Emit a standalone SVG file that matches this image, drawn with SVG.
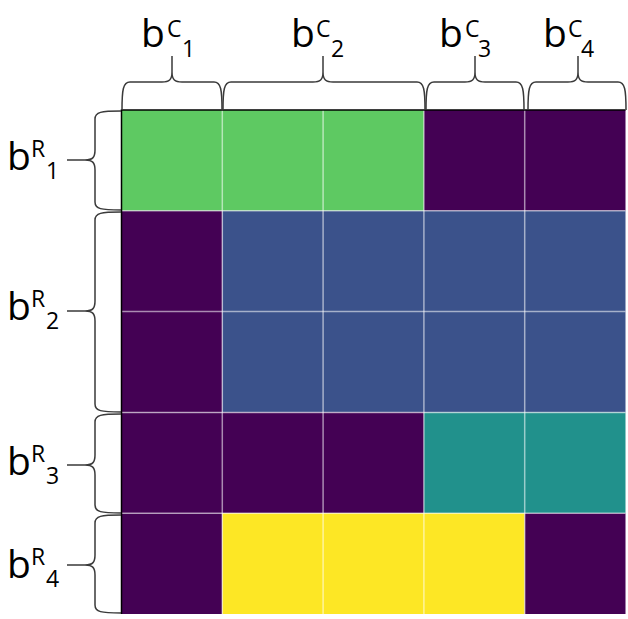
<svg xmlns="http://www.w3.org/2000/svg" width="628" height="619" viewBox="0 0 628 619">
<style>
.lbl{font-family:"Open Sans","Liberation Sans",sans-serif;fill:#000}
.big{font-size:39px}
.sm{font-size:23px}
.brace{fill:none;stroke:#3a3a3a;stroke-width:1.5}
.grid{stroke:#ffffff;stroke-opacity:0.55;stroke-width:1.5}
.G{fill:#5ec962}.P{fill:#440154}.B{fill:#3b528b}.T{fill:#21918c}.Y{fill:#fde725}
</style>
<rect width="628" height="619" fill="#ffffff"/>
<g id="matrix">
<rect class="G" x="121.5" y="110" width="302.4" height="100.8"/>
<rect class="P" x="423.9" y="110" width="201.6" height="100.8"/>
<rect class="P" x="121.5" y="210.8" width="100.8" height="201.6"/>
<rect class="B" x="222.3" y="210.8" width="403.2" height="201.6"/>
<rect class="P" x="121.5" y="412.4" width="302.4" height="100.8"/>
<rect class="T" x="423.9" y="412.4" width="201.6" height="100.8"/>
<rect class="P" x="121.5" y="513.2" width="100.8" height="100.8"/>
<rect class="Y" x="222.3" y="513.2" width="302.4" height="100.8"/>
<rect class="P" x="524.7" y="513.2" width="100.8" height="100.8"/>
<g class="grid">
<line x1="222.3" y1="110" x2="222.3" y2="614"/>
<line x1="323.1" y1="110" x2="323.1" y2="614"/>
<line x1="423.9" y1="110" x2="423.9" y2="614"/>
<line x1="524.7" y1="110" x2="524.7" y2="614"/>
<line x1="121.5" y1="210.8" x2="625.5" y2="210.8"/>
<line x1="121.5" y1="311.6" x2="625.5" y2="311.6"/>
<line x1="121.5" y1="412.4" x2="625.5" y2="412.4"/>
<line x1="121.5" y1="513.2" x2="625.5" y2="513.2"/>
</g>
<path d="M121.5 614 L121.5 110 L625.5 110" fill="none" stroke="#000" stroke-width="1.5"/>
</g>
<g id="connectors">
<path class="brace" d="M122 110 C122 90 123 82 130 82 L162 82 C169 82 172 80 172 72 L172 56 M172 72 C172 80 175 82 182 82 L214 82 C221 82 222 90 222 110"/>
<path class="brace" d="M223 110 C223 90 224 82 231 82 L313 82 C320 82 323 80 323 72 L323 56 M323 72 C323 80 326 82 333 82 L417 82 C424 82 425 90 425 110"/>
<path class="brace" d="M426 110 C426 90 427 82 434 82 L465 82 C472 82 475 80 475 72 L475 56 M475 72 C475 80 478 82 485 82 L516 82 C523 82 524 90 524 110"/>
<path class="brace" d="M528 110 C528 90 529 82 536 82 L568 82 C575 82 578 80 578 72 L578 56 M578 72 C578 80 581 82 588 82 L618 82 C625 82 626 90 626 110"/>
<path class="brace" d="M121 111 C101 111 95 112 95 119 L95 150 C95 157 93 160 85 160 L67 160 M85 160 C93 160 95 163 95 170 L95 202 C95 209 101 210 121 210"/>
<path class="brace" d="M121 212 C101 212 95 213 95 220 L95 301 C95 308 93 311 85 311 L67 311 M85 311 C93 311 95 314 95 321 L95 404 C95 411 101 412 121 412"/>
<path class="brace" d="M121 414 C101 414 95 415 95 422 L95 455 C95 462 93 465 85 465 L67 465 M85 465 C93 465 95 468 95 475 L95 505 C95 512 101 513 121 513"/>
<path class="brace" d="M121 515 C101 515 95 516 95 523 L95 555 C95 562 93 565 85 565 L67 565 M85 565 C93 565 95 568 95 575 L95 605 C95 612 101 613 121 613"/>
</g>
<g id="col-labels" class="lbl">
<g id="bC1"><text class="big" x="141" y="47">b</text><text class="sm" x="167" y="37">C</text><text class="sm" x="182" y="57">1</text></g>
<g id="bC2"><text class="big" x="291" y="47">b</text><text class="sm" x="316" y="37">C</text><text class="sm" x="331" y="57">2</text></g>
<g id="bC3"><text class="big" x="439" y="47">b</text><text class="sm" x="465" y="37">C</text><text class="sm" x="478" y="57">3</text></g>
<g id="bC4"><text class="big" x="543" y="47">b</text><text class="sm" x="568" y="37">C</text><text class="sm" x="581" y="57">4</text></g>
</g>
<g id="row-labels" class="lbl">
<g id="bR1"><text class="big" x="7" y="170">b</text><text class="sm" x="31" y="157">R</text><text class="sm" x="46" y="179">1</text></g>
<g id="bR2"><text class="big" x="7" y="320">b</text><text class="sm" x="31" y="307">R</text><text class="sm" x="46" y="329">2</text></g>
<g id="bR3"><text class="big" x="7" y="475">b</text><text class="sm" x="31" y="462">R</text><text class="sm" x="46" y="484">3</text></g>
<g id="bR4"><text class="big" x="7" y="578">b</text><text class="sm" x="31" y="565">R</text><text class="sm" x="46" y="587">4</text></g>
</g>
</svg>
